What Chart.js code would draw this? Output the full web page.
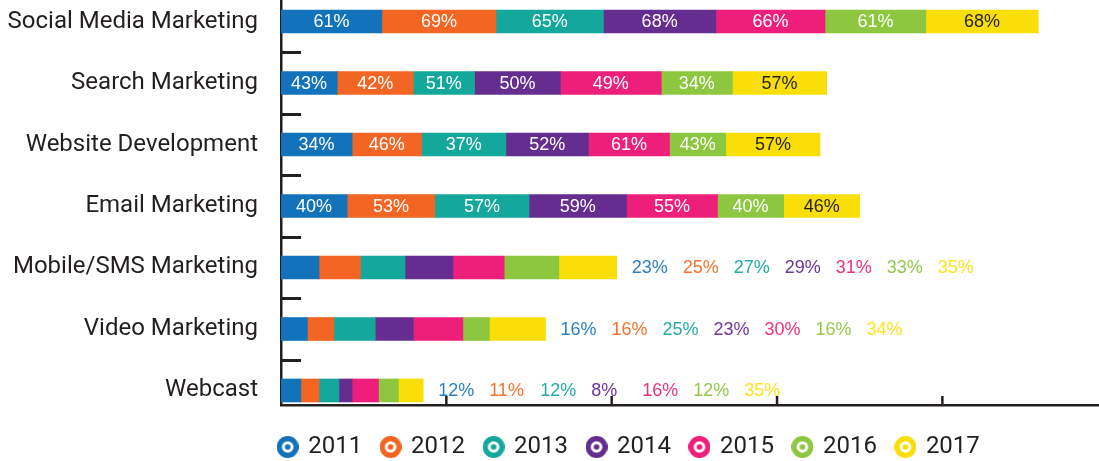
<!DOCTYPE html>
<html>
<head>
<meta charset="utf-8">
<title>Marketing channels by year</title>
<script src="https://cdn.jsdelivr.net/npm/chart.js@4/dist/chart.umd.min.js"></script>
<style>
	html, body { margin: 0; padding: 0; background: #ffffff; overflow: hidden; }
	#wrap { width: 1099px; height: 461px; overflow: hidden; }
	canvas { display: block; }
</style>
</head>
<body>
<div id="wrap"><canvas id="usage_chart" width="1259" height="469"></canvas></div>
<script>
const categories = ['Social Media Marketing', 'Search Marketing', 'Website Development',
	'Email Marketing', 'Mobile/SMS Marketing', 'Video Marketing', 'Webcast'];
const years = ['2011', '2012', '2013', '2014', '2015', '2016', '2017'];

// bar lengths as they are drawn in the picture
const bars2011 = [61, 34, 43, 40, 23, 16, 12];
const bars2012 = [69, 46, 42, 53, 25, 16, 11];
const bars2013 = [65, 37, 51, 57, 27, 25, 12];
const bars2014 = [68, 52, 50, 59, 29, 23, 8];
const bars2015 = [66, 61, 49, 55, 31, 30, 16];
const bars2016 = [61, 43, 34, 40, 33, 16, 12];
const bars2017 = [68, 57, 57, 46, 35, 34, 15];

// percentages as they are printed (search / website rows are swapped in the source)
const text2011 = [61, 43, 34, 40, 23, 16, 12];
const text2012 = [69, 42, 46, 53, 25, 16, 11];
const text2013 = [65, 51, 37, 57, 27, 25, 12];
const text2014 = [68, 50, 52, 59, 29, 23, 8];
const text2015 = [66, 49, 61, 55, 31, 30, 16];
const text2016 = [61, 34, 43, 40, 33, 16, 12];
const text2017 = [68, 57, 57, 46, 35, 34, 35];

// rows whose numbers sit to the right of the bar
const labelsOutside = [false, false, false, false, true, true, true];

const seriesBars = [bars2011, bars2012, bars2013, bars2014, bars2015, bars2016, bars2017];
const seriesText = [text2011, text2012, text2013, text2014, text2015, text2016, text2017];

const barColors = ['#1273ba', '#f26522', '#14a89c', '#662d91', '#ee1f7a', '#8dc63f', '#f9de08'];
const textColors = ['#2a7fc5', '#f5712e', '#22ada2', '#6e3599', '#f0307f', '#94c94b', '#fde31e'];
const axisColor = '#231f20';

function makeIcon(color){
	/*
	Small target shaped marker for the legend.
	:param: color.
	:return: canvas.
	*/
	const c = document.createElement('canvas');
	c.width = 22;
	c.height = 22;
	const g = c.getContext('2d');
	g.fillStyle = color;
	g.beginPath(); g.arc(11, 11, 11, 0, Math.PI * 2); g.fill();
	g.fillStyle = '#ffffff';
	g.beginPath(); g.arc(11, 11, 5.8, 0, Math.PI * 2); g.fill();
	g.fillStyle = color;
	g.beginPath(); g.arc(11, 11, 2.8, 0, Math.PI * 2); g.fill();
	return c;
}
const legendIcons = barColors.map(makeIcon);

const barText = {
	id: 'barText',
	afterDatasetsDraw(chart) {
		const ctx = chart.ctx;
		const area = chart.chartArea;
		const xs = chart.scales.x;
		const ys = chart.scales.y;
		ctx.save();
		ctx.font = '18px "Liberation Sans", Arial, sans-serif';
		ctx.textBaseline = 'middle';
		for (let i = 0; i < categories.length; i++) {
			let end = area.left;
			for (let d = 0; d < years.length; d++) {
				end = Math.max(end, chart.getDatasetMeta(d).data[i].x);
			}
			for (let d = 0; d < years.length; d++) {
				const bar = chart.getDatasetMeta(d).data[i];
				const txt = seriesText[d][i] + '%';
				if (labelsOutside[i]) {
					ctx.textAlign = 'left';
					ctx.fillStyle = textColors[d];
					ctx.fillText(txt, end + 15 + d * 51, bar.y + 1);
				} else {
					ctx.textAlign = 'center';
					ctx.fillStyle = d == 6 ? axisColor : '#ffffff';
					ctx.fillText(txt, (bar.x + bar.base) / 2, bar.y + 1);
				}
			}
		}

		// tick marks pointing into the plot
		ctx.strokeStyle = axisColor;
		ctx.lineWidth = 3;
		for (let i = 0; i < categories.length - 1; i++) {
			const py = Math.round(ys.getPixelForValue(i + 0.5)) + 0.5;
			ctx.beginPath();
			ctx.moveTo(area.left, py);
			ctx.lineTo(area.left + 20, py);
			ctx.stroke();
		}
		ctx.lineWidth = 2.5;
		for (let v = 100; v <= 400; v += 100) {
			const px = xs.getPixelForValue(v);
			ctx.beginPath();
			ctx.moveTo(px, area.bottom);
			ctx.lineTo(px, area.bottom - 9);
			ctx.stroke();
		}
		ctx.restore();
	}
};

const ctx = document.getElementById('usage_chart').getContext('2d');
const usage_chart = new Chart(ctx, {
	type: 'bar',
	data: {
		datasets: years.map((year, d) => ({
			label: year,
			data: seriesBars[d].map((v, i) => ({x: v, y: i})),
			backgroundColor: barColors[d],
			borderWidth: 0,
			barThickness: 23
		}))
	},
	options: {
		indexAxis: 'y',
		responsive: false,
		animation: false,
		devicePixelRatio: 1,
		events: [],
		layout: { padding: 0 },
		scales: {
			x: {
				type: 'linear',
				stacked: true,
				offset: false,
				min: 0,
				max: 591.5,
				ticks: { display: false },
				grid: { display: false, drawTicks: false },
				border: { display: true, color: axisColor, width: 2.5 },
				afterFit: function(scale) {
					scale.height = 10;
					scale.paddingLeft = 0;
					scale.paddingRight = 0;
				}
			},
			y: {
				type: 'linear',
				stacked: true,
				reverse: true,
				offset: false,
				min: -0.35,
				max: 6.236,
				afterBuildTicks: function(scale) {
					scale.ticks = categories.map((c, i) => ({value: i}));
				},
				ticks: {
					autoSkip: false,
					padding: 23,
					color: axisColor,
					font: { family: 'Roboto', size: 24 },
					callback: function(value) { return categories[value]; }
				},
				grid: { display: false, drawTicks: false, offset: false },
				border: { display: true, color: axisColor, width: 2.5 },
				afterFit: function(scale) {
					scale.width = 281;
					scale.paddingTop = 0;
					scale.paddingBottom = 0;
				}
			}
		},
		plugins: {
			tooltip: { enabled: false },
			legend: {
				position: 'bottom',
				align: 'center',
				labels: {
					usePointStyle: true,
					boxWidth: 17,
					boxHeight: 22,
					padding: 20,
					color: axisColor,
					font: { family: 'Roboto', size: 24 },
					generateLabels: function(chart) {
						return years.map((year, d) => ({
							text: year,
							pointStyle: legendIcons[d],
							fillStyle: barColors[d],
							strokeStyle: barColors[d],
							lineWidth: 0,
							fontColor: axisColor,
							hidden: false,
							datasetIndex: d
						}));
					}
				}
			}
		}
	},
	plugins: [barText]
});
</script>
</body>
</html>
